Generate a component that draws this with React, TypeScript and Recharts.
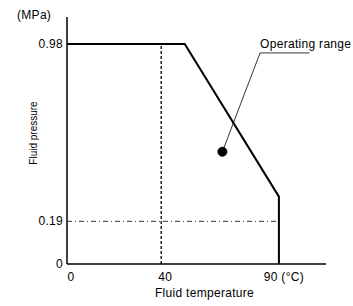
import { LineChart, Line, XAxis, YAxis, ReferenceLine, ReferenceDot } from "recharts";

const FONT = "'Liberation Sans', Arial, sans-serif";

// operating range boundary (temperature °C, pressure MPa)
const boundaryTemps = [0, 50, 90, 90];
const boundaryPressures = [0.98, 0.98, 0.3, 0];

// leader line from the marker to the "Operating range" note
const leaderTemps = [66, 82, 103];
const leaderPressures = [0.5, 0.94, 0.94];

const markerTemp = 66;
const markerPressure = 0.5;

const xTicks = [0, 40, 90];
const yTicks = [0, 0.19, 0.98];
const tempUnit = "(°C)";
const noteText = "Operating range";

const limitTemp = 40;
const limitPressure = 0.19;

const boundary = boundaryTemps.map((t, i) => ({ temp: t, pressure: boundaryPressures[i] }));
const leader = leaderTemps.map((t, i) => ({ temp: t, pressure: leaderPressures[i] }));

const txt = { fontSize: 12, fontFamily: FONT, fill: "#000", letterSpacing: 0.3 };

function XTick({ x, y, payload }: any) {
    const last = payload.value === xTicks[xTicks.length - 1];
    return (
        <text x={x + (last ? 5 : 4)} y={y + 17} textAnchor="middle" {...txt}>
            {last ? `${payload.value} ${tempUnit}` : payload.value}
        </text>
    );
}

function YTick({ x, y, payload }: any) {
    return (
        <text x={x - 4} y={y + 4} textAnchor="end" {...txt}>
            {payload.value}
        </text>
    );
}

function YLabel({ viewBox }: any) {
    const { x, y } = viewBox;
    return (
        <g fontFamily={FONT} fill="#000">
            <text x={x + 17} y={y + 2} {...txt}>(MPa)</text>
            <text x={x + 37} y={y + 116} fontSize={10} textAnchor="middle" transform={`rotate(-90 ${x + 37} ${y + 116})`}>
                Fluid pressure
            </text>
        </g>
    );
}

function NoteLabel({ x, y, index }: any) {
    if (index !== 1) return null;
    return (
        <text x={x} y={y - 5} {...txt}>
            {noteText}
        </text>
    );
}

export default function App() {
    return (
        <div style={{ position: "absolute", left: 0, top: 0, background: "#fff" }}>
            <LineChart width={353} height={306} margin={{ top: 17, right: 27, bottom: 0, left: 0 }}>
                <XAxis dataKey="temp" type="number" domain={[0, 110]} ticks={xTicks}
                    height={42} tickLine={false} tickSize={0} tickMargin={0}
                    axisLine={{ stroke: "#000", strokeWidth: 1.5 }}
                    tick={<XTick />}
                    label={{ value: "Fluid temperature", position: "insideBottom", offset: 9, dx: 8, ...txt }} />
                <YAxis type="number" domain={[0, 1.1]} ticks={yTicks} width={67}
                    tickLine={false} tickSize={0} tickMargin={0}
                    axisLine={{ stroke: "#000", strokeWidth: 1.5 }}
                    tick={<YTick />}
                    label={{ content: <YLabel /> }} />

                <ReferenceLine segment={[{ x: limitTemp, y: 0 }, { x: limitTemp, y: boundaryPressures[0] }]}
                    stroke="#000" strokeWidth={1.3} strokeDasharray="3 2" />
                <ReferenceLine segment={[{ x: 0, y: limitPressure }, { x: boundaryTemps[2], y: limitPressure }]}
                    stroke="#000" strokeWidth={0.8} strokeDasharray="5 3 1 3" />

                <Line data={boundary} dataKey="pressure" type="linear" stroke="#000" strokeWidth={2}
                    dot={false} activeDot={false} isAnimationActive={false} />
                <Line data={leader} dataKey="pressure" type="linear" stroke="#000" strokeWidth={0.8}
                    dot={false} activeDot={false} isAnimationActive={false} label={<NoteLabel />} />

                <ReferenceDot x={markerTemp} y={markerPressure} r={4.5} fill="#000" stroke="#000" />
            </LineChart>
        </div>
    );
}
